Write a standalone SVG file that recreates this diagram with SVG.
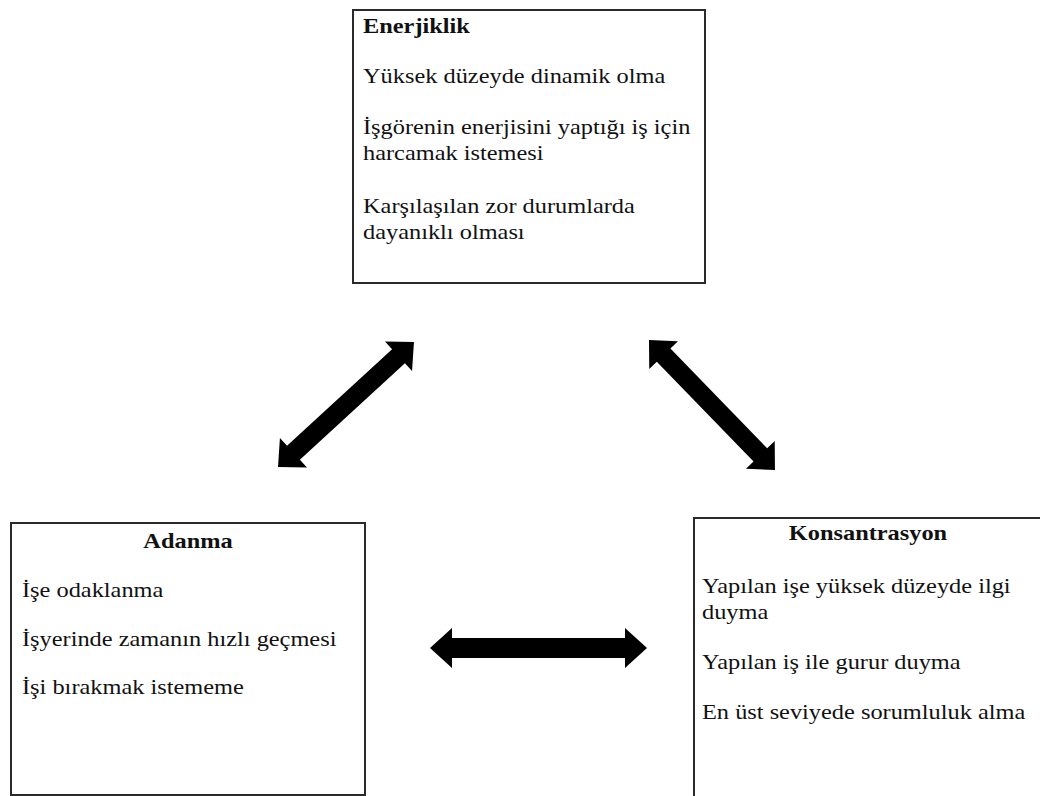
<svg xmlns="http://www.w3.org/2000/svg" width="1040" height="796" viewBox="0 0 1040 796">
  <style>
    .box { fill: #ffffff; stroke: #2a2a2a; stroke-width: 2; }
    .title { font-family: 'Liberation Serif', 'Times New Roman', serif; font-size: 21px; font-weight: bold; fill: #111; }
    .item { font-family: 'Liberation Serif', 'Times New Roman', serif; font-size: 21px; fill: #111; }
    .arrow { fill: #000000; }
  </style>
  <rect width="1040" height="796" fill="#ffffff"/>

  <g id="node-enerjiklik">
    <rect class="box" x="353" y="10" width="352" height="273"/>
    <g transform="translate(363 0) scale(1.16 1)">
      <text class="title" x="0" y="33">Enerjiklik</text>
      <text class="item" x="0" y="83">Yüksek düzeyde dinamik olma</text>
      <text class="item" x="0" y="134">İşgörenin enerjisini yaptığı iş için</text>
      <text class="item" x="0" y="160">harcamak istemesi</text>
      <text class="item" x="0" y="213">Karşılaşılan zor durumlarda</text>
      <text class="item" x="0" y="239">dayanıklı olması</text>
    </g>
  </g>

  <g id="node-adanma">
    <rect class="box" x="11" y="523" width="354" height="272"/>
    <g transform="translate(188 0) scale(1.16 1)">
      <text class="title" x="0" y="548" text-anchor="middle">Adanma</text>
    </g>
    <g transform="translate(22 0) scale(1.16 1)">
      <text class="item" x="0" y="597">İşe odaklanma</text>
      <text class="item" x="0" y="646">İşyerinde zamanın hızlı geçmesi</text>
      <text class="item" x="0" y="694">İşi bırakmak istememe</text>
    </g>
  </g>

  <g id="node-konsantrasyon">
    <rect class="box" x="694" y="518" width="352" height="282"/>
    <g transform="translate(868 0) scale(1.16 1)">
      <text class="title" x="0" y="540" text-anchor="middle">Konsantrasyon</text>
    </g>
    <g transform="translate(702 0) scale(1.16 1)">
      <text class="item" x="0" y="593">Yapılan işe yüksek düzeyde ilgi</text>
      <text class="item" x="0" y="619">duyma</text>
      <text class="item" x="0" y="669">Yapılan iş ile gurur duyma</text>
      <text class="item" x="0" y="719">En üst seviyede sorumluluk alma</text>
    </g>
  </g>

  <g id="connectors">
    <!-- Adanma <-> Enerjiklik -->
    <polygon class="arrow" transform="translate(278,467) rotate(-42.6)"
      points="0,0 21,-20 21,-9.5 163.7,-9.5 163.7,-20 184.7,0 163.7,20 163.7,9.5 21,9.5 21,20"/>
    <!-- Enerjiklik <-> Konsantrasyon -->
    <polygon class="arrow" transform="translate(649,340) rotate(45.9)"
      points="0,0 21,-20 21,-9.5 160,-9.5 160,-20 181,0 160,20 160,9.5 21,9.5 21,20"/>
    <!-- Adanma <-> Konsantrasyon -->
    <polygon class="arrow"
      points="430,648 452,628 452,638 625,638 625,628 647,648 625,668 625,658 452,658 452,668"/>
  </g>
</svg>
